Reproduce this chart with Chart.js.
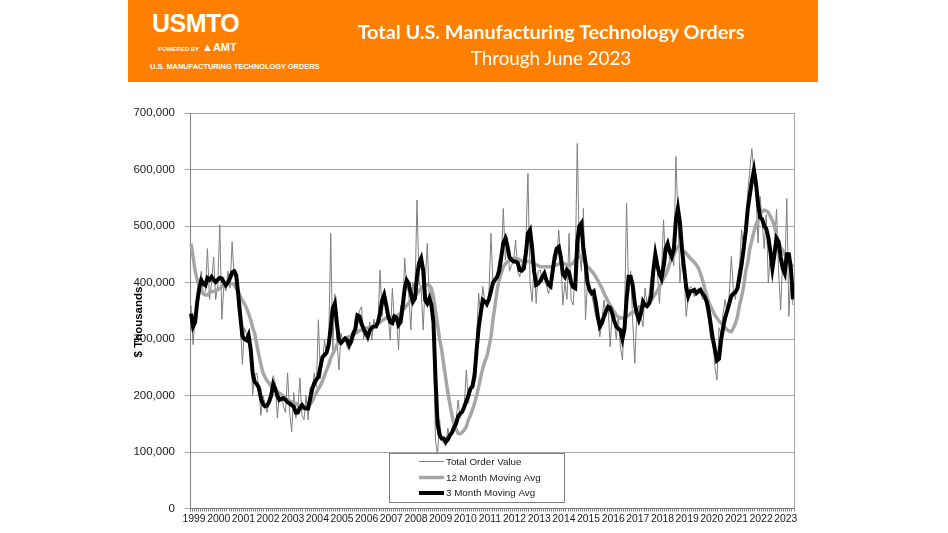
<!DOCTYPE html>
<html>
<head>
<meta charset="utf-8">
<title>Total U.S. Manufacturing Technology Orders</title>
<script src="https://cdn.jsdelivr.net/npm/chart.js@4/dist/chart.umd.min.js"></script>
<style>
  html, body { margin: 0; padding: 0; background: #fff; }
  #wrap { position: relative; width: 948px; height: 533px; overflow: hidden; }
  #chart { position: absolute; left: 0; top: 0; }
  .banner { position: absolute; left: 128px; top: 0; width: 690px; height: 82px; background: #ff8000; color: #fff; }
  .logo { position: absolute; left: 24px; top: 9px; font-family: "Liberation Sans", Arial, sans-serif; font-weight: bold; font-size: 25px; letter-spacing: -0.5px; }
  .powered { position: absolute; left: 30px; top: 41px; font-family: "Liberation Sans", Arial, sans-serif; font-weight: bold; font-style: italic; font-size: 6px; }
  .powered b { font-style: normal; font-size: 11px; margin-left: 3px; }
  .sub { position: absolute; left: 22px; top: 62px; font-family: "Liberation Sans", Arial, sans-serif; font-weight: bold; font-size: 7.4px; white-space: nowrap; }
  .title1 { position: absolute; left: 0; width: 846px; top: 19px; text-align: center; font-family: Lato, sans-serif; font-weight: bold; font-size: 19.8px; white-space: nowrap; }
  .title2 { position: absolute; left: 0; width: 846px; top: 46px; text-align: center; font-family: Lato, sans-serif; font-size: 18.8px; white-space: nowrap; }
</style>
</head>
<body>
<div id="wrap">
  <canvas id="chart" width="948" height="533"></canvas>
  <div class="banner">
    <div class="logo">USMTO</div>
    <div class="powered">POWERED BY<b>&#9650;AMT</b></div>
    <div class="sub">U.S. MANUFACTURING TECHNOLOGY ORDERS</div>
    <div class="title1">Total U.S. Manufacturing Technology Orders</div>
    <div class="title2">Through June 2023</div>
  </div>
</div>
<script>
// Годы на оси X (2023 - только до июня)
const years = ["1999","2000","2001","2002","2003","2004","2005","2006","2007","2008","2009","2010",
  "2011","2012","2013","2014","2015","2016","2017","2018","2019","2020","2021","2022","2023"];
const monthNames = ["Jan","Feb","Mar","Apr","May","Jun","Jul","Aug","Sep","Oct","Nov","Dec"];
const lastYearMonths = 6;

// Значения в миллионах $ (по оси - $ тысячи, поэтому * 1000)
const totalOrderValue = [
  360, 290, 340, 370, 400, 420, 380, 385, 460, 370, 400, 445,
  370, 395, 502, 335, 395, 385, 420, 390, 472, 410, 420, 350,
  330, 255, 320, 310, 300, 290, 201, 235, 240, 215, 165, 200,
  185, 170, 195, 200, 235, 222, 160, 200, 205, 180, 170, 240,
  170, 136, 205, 160, 175, 231, 165, 157, 200, 157, 215, 210,
  240, 215, 334, 230, 260, 298, 270, 290, 487, 280, 380, 298,
  245, 310, 295, 300, 285, 280, 310, 300, 340, 330, 350, 357,
  300, 320, 295, 330, 298, 335, 320, 330, 422, 340, 380, 375,
  340, 298, 390, 330, 340, 281, 360, 340, 443, 395, 380, 316,
  400, 380, 546, 400, 390, 316, 400, 469, 370, 390, 290, 120,
  95, 157, 120, 116, 110, 142, 125, 140, 150, 155, 192, 160,
  170, 180, 245, 186, 210, 230, 250, 300, 381, 340, 393, 365,
  355, 380, 487, 395, 400, 420, 440, 430, 531, 440, 481, 420,
  430, 440, 475, 420, 410, 430, 440, 470, 593, 400, 366, 430,
  363, 420, 422, 400, 415, 395, 380, 400, 420, 458, 440, 493,
  440, 360, 400, 370, 487, 369, 360, 420, 646, 460, 420, 531,
  334, 400, 390, 380, 360, 340, 330, 304, 330, 369, 340, 360,
  286, 345, 330, 300, 340, 286, 263, 340, 540, 380, 420, 330,
  257, 345, 360, 340, 322, 390, 360, 380, 410, 430, 463, 420,
  363, 420, 511, 430, 470, 440, 460, 430, 623, 520, 400, 450,
  416, 340, 370, 393, 390, 375, 385, 390, 387, 370, 380, 350,
  330, 298, 300, 250, 227, 320, 310, 345, 370, 340, 380, 446,
  387, 370, 410, 430, 493, 460, 510, 560, 600, 637, 590, 560,
  470, 552, 510, 460, 520, 399, 450, 430, 470, 530, 420, 351,
  440, 420, 549, 340, 420, 360
];

const movingAvg12 = [
  469, 446, 420, 405, 392, 384, 380, 378, 378, 382, 384, 384,
  385, 387, 390, 393, 395, 397, 399, 399, 398, 396, 390, 384,
  375, 368, 362, 355, 345, 334, 320, 310, 290, 272, 255, 240,
  233, 226, 222, 216, 212, 210, 207, 204, 201, 199, 196, 192,
  190, 189, 187, 186, 183, 181, 180, 180, 180, 180, 184, 190,
  198, 205, 212, 218, 226, 236, 245, 254, 266, 274, 281, 290,
  295, 297, 300, 301, 303, 304, 305, 307, 310, 312, 315, 316,
  318, 319, 320, 321, 322, 323, 325, 327, 330, 333, 335, 337,
  338, 338, 339, 340, 341, 343, 346, 350, 355, 360, 364, 368,
  371, 375, 380, 385, 390, 393, 395, 396, 395, 390, 375, 350,
  325, 300, 281, 255, 230, 205, 185, 165, 150, 140, 133, 132,
  135, 139, 145, 157, 165, 175, 186, 200, 215, 233, 248, 260,
  269, 285, 304, 335, 360, 387, 405, 416, 428, 433, 437, 439,
  441, 443, 443, 442, 440, 438, 437, 437, 437, 437, 435, 433,
  431, 430, 428, 428, 428, 428, 428, 428, 428, 430, 431, 433,
  434, 434, 433, 431, 431, 432, 434, 440, 444, 446, 444, 440,
  433, 428, 425, 420, 416, 410, 404, 397, 390, 381, 374, 366,
  360, 354, 348, 342, 339, 337, 337, 337, 340, 342, 345, 347,
  348, 348, 350, 352, 357, 359, 361, 364, 368, 375, 380, 385,
  392, 400, 407, 414, 422, 434, 440, 448, 458, 463, 466, 460,
  455, 452, 447, 443, 439, 436, 431, 425, 416, 404, 390, 377,
  365, 357, 350, 342, 337, 332, 328, 324, 320, 316, 314, 313,
  319, 328, 340, 360, 375, 393, 420, 435, 460, 475, 490, 502,
  512, 522, 526, 528, 527, 524, 517, 510, 500, 484, 472, 462,
  457, 450, 443, 438, 432, 428
];

const movingAvg3 = [
  345, 322, 330, 365, 390, 404, 398, 395, 408, 405, 410, 405,
  401, 405, 408, 407, 400, 395, 400, 408, 418, 420, 413, 378,
  340, 305, 300, 298, 307, 283, 240, 224, 220, 214, 195, 185,
  181, 182, 189, 200, 220, 212, 200, 192, 194, 195, 192, 188,
  186, 183, 180, 170, 170, 178, 183, 178, 177, 177, 195, 212,
  222, 228, 233, 251, 268, 272, 276, 290, 320, 355, 363, 328,
  298, 293, 297, 301, 298, 289, 296, 310, 318, 342, 340, 327,
  318, 310, 304, 315, 320, 322, 322, 330, 345, 368, 378, 360,
  340, 330, 328, 340, 338, 325, 330, 357, 390, 404, 398, 380,
  366, 372, 410, 435, 443, 422, 369, 363, 372, 360, 330, 230,
  150, 130, 124, 124, 118, 122, 130, 134, 143, 150, 163, 168,
  171, 180, 190, 200, 212, 216, 235, 280, 320, 345, 369, 366,
  362, 370, 385, 400, 405, 410, 420, 445, 470, 478, 465, 445,
  440, 437, 437, 435, 422, 421, 425, 452, 487, 493, 463, 420,
  396, 398, 403, 410, 416, 404, 396, 393, 420, 445, 460, 463,
  445, 415, 410, 422, 418, 400, 392, 390, 470, 500, 505, 460,
  435, 400, 387, 381, 384, 365, 340, 322, 328, 340, 350, 357,
  355, 345, 332, 322, 318, 316, 300, 318, 370, 410, 410, 395,
  363, 345, 334, 345, 366, 360, 358, 363, 375, 420, 450, 430,
  415, 407, 428, 460, 469, 455, 446, 458, 510, 531, 505, 458,
  425, 393, 375, 384, 385, 387, 381, 384, 387, 380, 375, 366,
  350, 325, 300, 281, 262, 265, 298, 320, 338, 350, 363, 376,
  380, 383, 390, 410, 432, 460, 490, 530, 555, 580, 599, 575,
  540, 515, 512, 500, 495, 480, 455, 425, 450, 478, 472, 445,
  425, 416, 450, 450, 425, 370
];

const yTicks = [0, 100000, 200000, 300000, 400000, 500000, 600000, 700000];
const seriesNames = ["Total Order Value", "12 Month Moving Avg", "3 Month Moving Avg"];

// Подписи по месяцам
const labels = [];
years.forEach((y, i) => {
  const n = i === years.length - 1 ? lastYearMonths : 12;
  for (let m = 0; m < n; m++) labels.push(monthNames[m] + " " + y);
});

const FONT = "'Liberation Sans', Arial, sans-serif";

// Рамка справа, подпись оси Y и легенда внутри графика
const extras = {
  id: "extras",
  afterDraw(chart) {
    const ctx = chart.ctx;
    const a = chart.chartArea;
    ctx.save();
    ctx.strokeStyle = "#a6a6a6";
    ctx.lineWidth = 1;
    ctx.beginPath();
    ctx.moveTo(Math.round(a.right) + 0.5, a.top);
    ctx.lineTo(Math.round(a.right) + 0.5, a.bottom);
    ctx.stroke();

    // $ Thousands
    ctx.translate(139, 322);
    ctx.rotate(-Math.PI / 2);
    ctx.fillStyle = "#000";
    ctx.font = "bold 11.5px " + FONT;
    ctx.textAlign = "center";
    ctx.textBaseline = "middle";
    ctx.fillText("$ Thousands", 0, 0);
    ctx.restore();

    // легенда
    ctx.save();
    ctx.fillStyle = "#fff";
    ctx.fillRect(389, 453, 175, 49);
    ctx.strokeStyle = "#7f7f7f";
    ctx.lineWidth = 1;
    ctx.strokeRect(389.5, 453.5, 175, 49);
    const rows = [461.5, 477.5, 493];
    chart.data.datasets.forEach((ds, i) => {
      ctx.strokeStyle = ds.borderColor;
      ctx.lineWidth = ds.borderWidth;
      ctx.beginPath();
      ctx.moveTo(419, rows[i]);
      ctx.lineTo(444, rows[i]);
      ctx.stroke();
      ctx.fillStyle = "#1a1a1a";
      ctx.font = "9.8px " + FONT;
      ctx.textAlign = "left";
      ctx.textBaseline = "middle";
      ctx.fillText(ds.label, 446, rows[i] + 0.5);
    });
    ctx.restore();
  }
};

const ctx = document.getElementById("chart").getContext("2d");
new Chart(ctx, {
  type: "line",
  data: {
    labels: labels,
    datasets: [
      {
        label: seriesNames[0],
        data: totalOrderValue.map(v => v * 1000),
        borderColor: "#7f7f7f",
        borderWidth: 1,
        pointRadius: 0,
        order: 3
      },
      {
        label: seriesNames[1],
        data: movingAvg12.map(v => v * 1000),
        borderColor: "#a6a6a6",
        borderWidth: 3.5,
        pointRadius: 0,
        order: 2
      },
      {
        label: seriesNames[2],
        data: movingAvg3.map(v => v * 1000),
        borderColor: "#000000",
        borderWidth: 4,
        pointRadius: 0,
        order: 1
      }
    ]
  },
  options: {
    responsive: false,
    animation: false,
    layout: { padding: { left: 0, top: 113, right: 154, bottom: 0 } },
    plugins: {
      legend: { display: false },
      tooltip: { enabled: false }
    },
    scales: {
      x: {
        type: "category",
        offset: true,
        afterFit: s => { s.height = 24.5; },
        grid: { drawOnChartArea: false, offset: true, color: "#7f7f7f", tickLength: 3 },
        border: { color: "#7f7f7f" },
        ticks: {
          autoSkip: false,
          maxRotation: 0,
          minRotation: 0,
          padding: 1,
          labelOffset: 1,
          color: "#1a1a1a",
          font: { family: FONT, size: 10.4 },
          callback: (val, i) => (i % 12 === 1 ? years[Math.floor(i / 12)] : "")
        }
      },
      y: {
        min: 0,
        max: 700000,
        afterFit: s => { s.width = 190; },
        afterBuildTicks: s => { s.ticks = yTicks.map(v => ({ value: v })); },
        grid: { color: "#a6a6a6", tickLength: 5 },
        border: { color: "#7f7f7f" },
        ticks: {
          padding: 10,
          color: "#1a1a1a",
          font: { family: FONT, size: 11.5 },
          callback: v => v.toLocaleString("en-US")
        }
      }
    }
  },
  plugins: [extras]
});
</script>
</body>
</html>
